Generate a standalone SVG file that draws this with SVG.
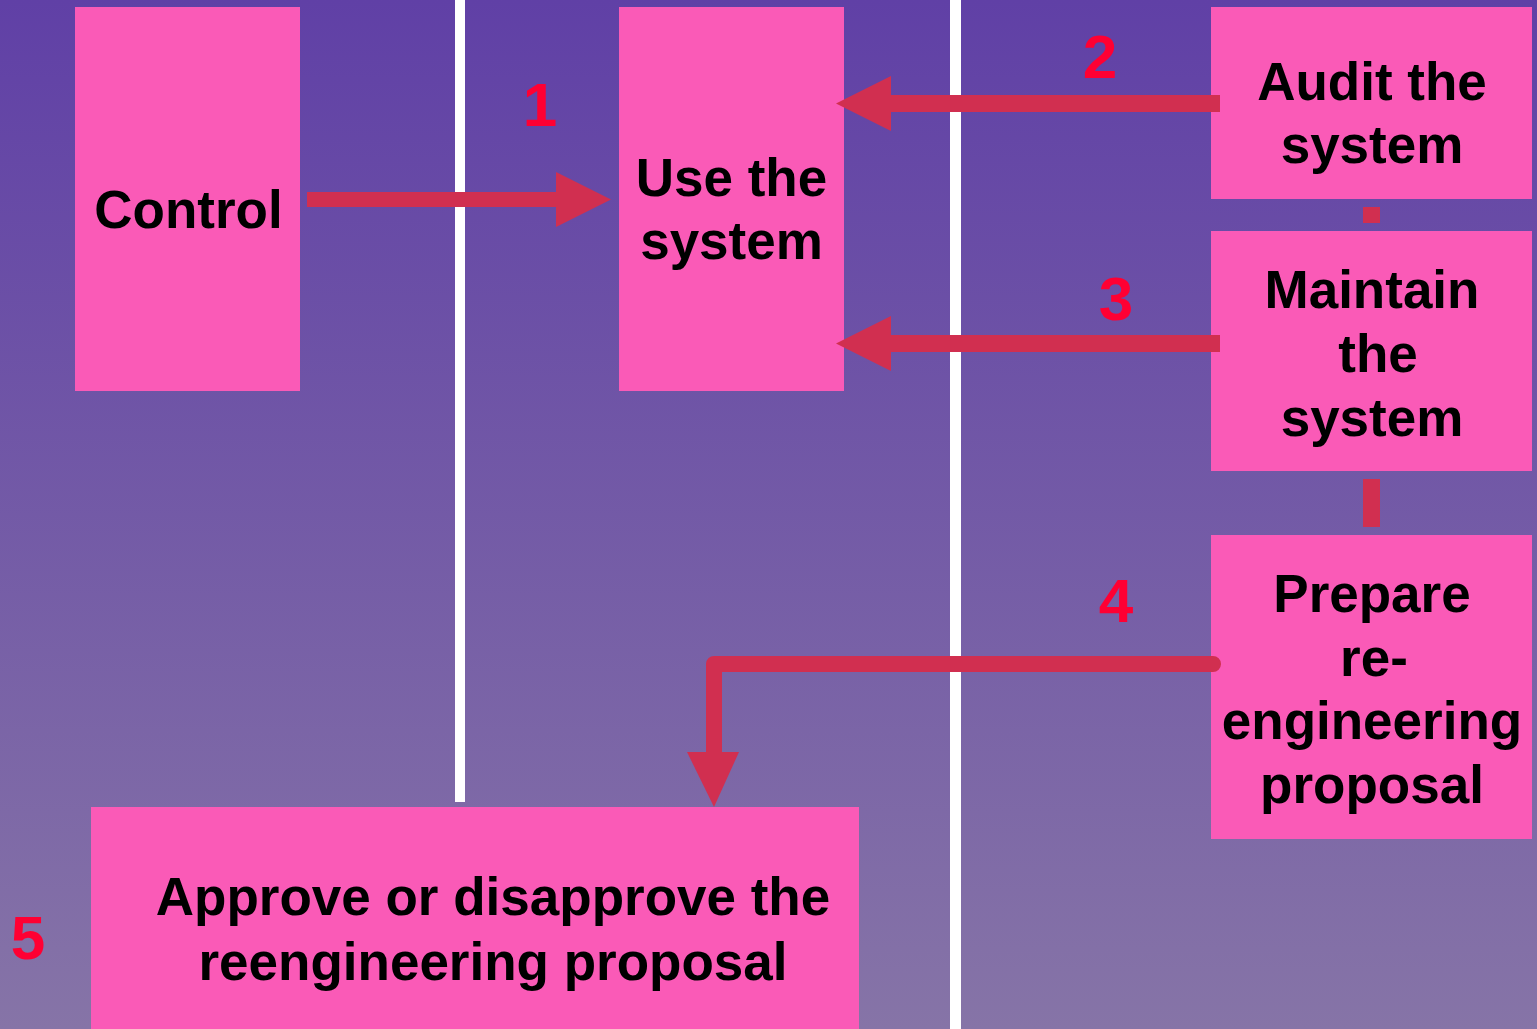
<svg xmlns="http://www.w3.org/2000/svg" width="1537" height="1029" viewBox="0 0 1537 1029">
  <defs>
    <linearGradient id="bg" x1="0" y1="0" x2="0" y2="1">
      <stop offset="0" stop-color="#6040A6"/>
      <stop offset="1" stop-color="#8674A7"/>
    </linearGradient>
    <style>
      .box { fill: #FA5AB7; }
      .lane { fill: #FFFFFF; }
      .lbl { font-family: "Liberation Sans", Arial, sans-serif; font-weight: bold; font-size: 53px; fill: #000000; text-anchor: middle; }
      .num { font-family: "Liberation Sans", Arial, sans-serif; font-weight: bold; font-size: 62px; fill: #FF0033; text-anchor: middle; }
      .conn { fill: #D12F50; }
      .connline { fill: none; stroke: #D12F50; stroke-width: 16; stroke-linecap: round; stroke-linejoin: round; }
    </style>
  </defs>

  <!-- background -->
  <rect x="0" y="0" width="1537" height="1029" fill="url(#bg)"/>

  <!-- lane dividers -->
  <rect class="lane" x="455" y="0" width="10" height="802"/>
  <rect class="lane" x="950" y="0" width="11" height="1029"/>

  <!-- nodes -->
  <g id="control">
    <rect class="box" x="75" y="7" width="225" height="384"/>
    <text class="lbl" x="188.5" y="228">Control</text>
  </g>

  <g id="use-system">
    <rect class="box" x="619" y="7" width="225" height="384"/>
    <text class="lbl" x="731.5" y="196">Use the</text>
    <text class="lbl" x="731.5" y="259">system</text>
  </g>

  <g id="audit-system">
    <rect class="box" x="1211" y="7" width="321" height="192"/>
    <text class="lbl" x="1372" y="100">Audit the</text>
    <text class="lbl" x="1372" y="163">system</text>
  </g>

  <g id="maintain-system">
    <rect class="box" x="1211" y="231" width="321" height="240"/>
    <text class="lbl" x="1372" y="308">Maintain</text>
    <text class="lbl" x="1378" y="372">the</text>
    <text class="lbl" x="1372" y="436">system</text>
  </g>

  <g id="prepare-proposal">
    <rect class="box" x="1211" y="535" width="321" height="304"/>
    <text class="lbl" x="1372" y="612">Prepare</text>
    <text class="lbl" x="1374" y="676">re-</text>
    <text class="lbl" x="1372" y="739">engineering</text>
    <text class="lbl" x="1372" y="803">proposal</text>
  </g>

  <g id="approve-proposal">
    <rect class="box" x="91" y="807" width="768" height="222"/>
    <text class="lbl" x="493" y="915">Approve or disapprove the</text>
    <text class="lbl" x="493" y="980">reengineering proposal</text>
  </g>

  <!-- connectors -->
  <g id="connectors">
    <!-- Control to Use the system -->
    <rect class="conn" x="307" y="192" width="250" height="15"/>
    <polygon class="conn" points="556,172 611,199.5 556,227"/>

    <!-- Audit to Use the system -->
    <rect class="conn" x="890" y="95" width="330" height="17"/>
    <polygon class="conn" points="891,76 836,103.5 891,131"/>

    <!-- Maintain to Use the system -->
    <rect class="conn" x="890" y="335" width="330" height="17"/>
    <polygon class="conn" points="891,316 836,343.5 891,371"/>

    <!-- links in the right column -->
    <rect class="conn" x="1363" y="207" width="17" height="16"/>
    <rect class="conn" x="1363" y="479" width="17" height="48"/>

    <!-- Prepare to Approve -->
    <polyline class="connline" points="1213,664 714,664 714,754"/>
    <polygon class="conn" points="687,752 739,752 714,807"/>
  </g>

  <!-- step numbers -->
  <g id="steps">
    <text class="num" x="540" y="126">1</text>
    <text class="num" x="1100" y="78">2</text>
    <text class="num" x="1116" y="320">3</text>
    <text class="num" x="1116" y="622">4</text>
    <text class="num" x="28" y="959">5</text>
  </g>
</svg>
